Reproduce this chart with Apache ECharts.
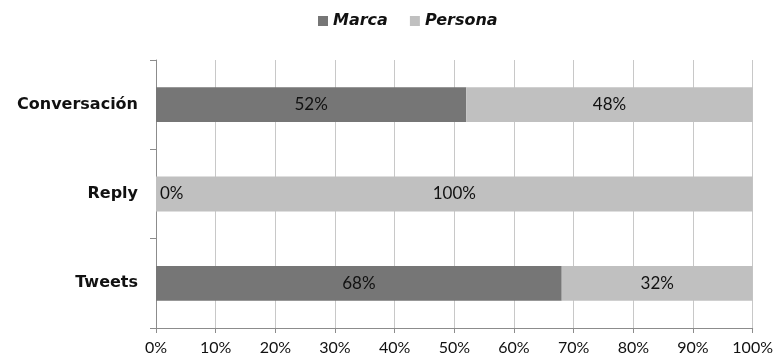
<!DOCTYPE html>
<html>
<head>
<meta charset="utf-8">
<script src="https://cdn.jsdelivr.net/npm/echarts@6/dist/echarts.min.js"></script>
<style>
  html, body { margin: 0; padding: 0; background: #fff; }
  #chart { width: 776px; height: 362px; }
</style>
</head>
<body>
<div id="chart"></div>
<script>
// Categories, top to bottom
const categories = ['Conversación', 'Reply', 'Tweets'];
// Share of each source (percent)
const marca = [52, 0, 68];
const persona = [48, 100, 32];
const xTicks = [0, 10, 20, 30, 40, 50, 60, 70, 80, 90, 100];

const FONT = 'Lato, "DejaVu Sans", sans-serif';
const HEAVY = '"DejaVu Sans", sans-serif';

const chart = echarts.init(document.getElementById('chart'));

function labelFor(v) {
  if (v === 0) {
    return { show: true, position: 'right', distance: 4, formatter: '{c}%' };
  }
  return undefined;
}

chart.setOption({
  animation: false,
  legend: {
    top: 8,
    left: 313,
    itemWidth: 10,
    itemHeight: 10,
    itemGap: 22,
    icon: 'rect',
    textStyle: { fontFamily: HEAVY, fontSize: 16, fontWeight: 'bold', fontStyle: 'italic', color: '#111' },
    data: ['Marca', 'Persona']
  },
  grid: { left: 156, right: 23, top: 60, bottom: 34 },
  xAxis: {
    type: 'value',
    min: xTicks[0],
    max: xTicks[xTicks.length - 1],
    interval: 10,
    axisLine: { show: true, lineStyle: { color: '#8c8c8c' } },
    axisTick: { show: true, length: 5, lineStyle: { color: '#8c8c8c' } },
    splitLine: { show: true, lineStyle: { color: '#c8c8c8' } },
    axisLabel: { fontFamily: FONT, fontSize: 16, color: '#111', margin: 12, formatter: '{value}%' }
  },
  yAxis: {
    type: 'category',
    inverse: true,
    data: categories,
    axisLine: { show: true, lineStyle: { color: '#8c8c8c' } },
    axisTick: { show: true, length: 6, lineStyle: { color: '#8c8c8c' } },
    axisLabel: { fontFamily: HEAVY, fontSize: 16, fontWeight: 'bold', color: '#111', margin: 18 }
  },
  series: [
    {
      name: 'Marca',
      type: 'bar',
      stack: 'total',
      barWidth: '39%',
      itemStyle: { color: '#767676' },
      label: { show: true, position: 'inside', formatter: '{c}%', fontFamily: FONT, fontSize: 17, color: '#111' },
      data: marca.map(v => {
        const l = labelFor(v);
        return l ? { value: v, label: l } : v;
      })
    },
    {
      name: 'Persona',
      type: 'bar',
      stack: 'total',
      itemStyle: { color: '#c0c0c0' },
      label: { show: true, position: 'inside', formatter: '{c}%', fontFamily: FONT, fontSize: 17, color: '#111' },
      data: persona
    }
  ]
});
</script>
</body>
</html>
